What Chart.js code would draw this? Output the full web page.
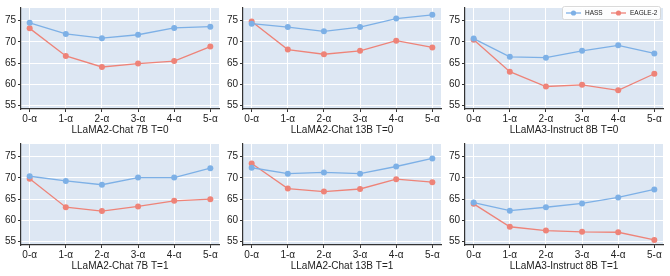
<!DOCTYPE html>
<html>
<head>
<meta charset="utf-8">
<script src="https://cdn.jsdelivr.net/npm/chart.js@4"></script>
<style>
  body { margin: 0; background: #fff; }
  #wrap { position: relative; width: 670px; height: 276px; }
  .cell { position: absolute; width: 222px; height: 136px; }
</style>
</head>
<body>
<div id="wrap"></div>
<script>
// data
const steps = ['0-α', '1-α', '2-α', '3-α', '4-α', '5-α'];
const yTicks = [55, 60, 65, 70, 75];
const titles = [
    'LLaMA2-Chat 7B T=0', 'LLaMA2-Chat 13B T=0', 'LLaMA3-Instruct 8B T=0',
    'LLaMA2-Chat 7B T=1', 'LLaMA2-Chat 13B T=1', 'LLaMA3-Instruct 8B T=1'
];
const hass = [
    [74.5, 71.9, 70.9, 71.7, 73.3, 73.6],
    [74.3, 73.5, 72.5, 73.5, 75.5, 76.4],
    [70.8, 66.5, 66.3, 67.9, 69.2, 67.3],
    [70.4, 69.3, 68.4, 70.1, 70.1, 72.3],
    [72.4, 71.0, 71.3, 71.0, 72.7, 74.6],
    [64.2, 62.3, 63.1, 64.0, 65.4, 67.3]
];
const eagle = [
    [73.2, 66.7, 64.1, 64.9, 65.5, 68.9],
    [74.8, 68.2, 67.1, 67.9, 70.3, 68.7],
    [70.5, 63.0, 59.5, 59.9, 58.6, 62.5],
    [69.8, 63.1, 62.2, 63.3, 64.6, 65.0],
    [73.4, 67.5, 66.8, 67.4, 69.7, 69.0],
    [63.9, 58.5, 57.6, 57.3, 57.2, 55.4]
];

const BLUE = '#7db0e6';
const RED = '#ee8378';
const FONT = "'Liberation Sans', Arial, sans-serif";

const bgPlugin = {
    id: 'bg',
    beforeDraw(chart) {
        const a = chart.chartArea;
        chart.ctx.save();
        chart.ctx.fillStyle = '#dde7f3';
        chart.ctx.fillRect(a.left, a.top, a.right - a.left, a.bottom - a.top);
        chart.ctx.restore();
    }
};

// small legend box like matplotlib's
const legendPlugin = {
    id: 'miniLegend',
    afterDraw(chart) {
        if (!chart.options.plugins.miniLegend.show) return;
        const ctx = chart.ctx;
        const x0 = 118, y0 = 6, w = 98, h = 13;
        ctx.save();
        ctx.fillStyle = 'rgba(255,255,255,0.9)';
        ctx.strokeStyle = '#d0d0d0';
        ctx.lineWidth = 0.8;
        ctx.beginPath();
        ctx.roundRect(x0 + 0.5, y0 + 0.5, w, h, 2);
        ctx.fill();
        ctx.stroke();
        const items = [['HASS', BLUE, x0 + 4], ['EAGLE-2', RED, x0 + 49]];
        ctx.font = '6.5px ' + FONT;
        ctx.textBaseline = 'middle';
        items.forEach(([label, col, lx]) => {
            const cy = y0 + h / 2 + 0.5;
            ctx.strokeStyle = col;
            ctx.lineWidth = 1.3;
            ctx.beginPath();
            ctx.moveTo(lx, cy);
            ctx.lineTo(lx + 15, cy);
            ctx.stroke();
            ctx.fillStyle = col;
            ctx.beginPath();
            ctx.arc(lx + 7.5, cy, 2.6, 0, Math.PI * 2);
            ctx.fill();
            ctx.fillStyle = '#222';
            ctx.fillText(label, lx + 19, cy);
        });
        ctx.restore();
    }
};

function toPoints(values) {
    return values.map((v, i) => ({ x: i, y: v }));
}

function renderPanel(idx) {
    const col = idx % 3, row = Math.floor(idx / 3);
    const cell = document.createElement('div');
    cell.className = 'cell';
    cell.style.left = (col * 222) + 'px';
    cell.style.top = (row * 136) + 'px';
    const canvas = document.createElement('canvas');
    cell.appendChild(canvas);
    document.getElementById('wrap').appendChild(cell);

    new Chart(canvas, {
        type: 'line',
        data: {
            datasets: [
                { label: 'HASS', data: toPoints(hass[idx]), borderColor: BLUE, backgroundColor: BLUE },
                { label: 'EAGLE-2', data: toPoints(eagle[idx]), borderColor: RED, backgroundColor: RED }
            ]
        },
        options: {
            responsive: true,
            maintainAspectRatio: false,
            animation: false,
            devicePixelRatio: 1,
            layout: { padding: { top: 5, right: 3, left: 0, bottom: 0 } },
            elements: {
                line: { borderWidth: 1.3, tension: 0 },
                point: { radius: 3, borderWidth: 0, hoverRadius: 3 }
            },
            plugins: {
                legend: { display: false },
                tooltip: { enabled: false },
                miniLegend: { show: idx === 2 }
            },
            scales: {
                x: {
                    type: 'linear',
                    min: -0.24,
                    max: 5.24,
                    afterBuildTicks(scale) {
                        scale.ticks = steps.map((s, i) => ({ value: i }));
                    },
                    afterFit(scale) { scale.height = 27; },
                    ticks: {
                        callback: (v) => steps[v],
                        color: '#222',
                        font: { family: FONT, size: 10 },
                        padding: 1,
                        maxRotation: 0
                    },
                    grid: { color: '#ffffff', lineWidth: 1, tickColor: '#333', tickLength: 3 },
                    border: { color: '#333', width: 1.2 },
                    title: {
                        display: true,
                        text: titles[idx],
                        color: '#222',
                        font: { family: FONT, size: 10 },
                        padding: { top: 1, bottom: 0 }
                    }
                },
                y: {
                    min: 54.2,
                    max: 78.0,
                    afterBuildTicks(scale) {
                        scale.ticks = yTicks.map(v => ({ value: v }));
                    },
                    afterFit(scale) { scale.width = 21; },
                    ticks: {
                        color: '#222',
                        font: { family: FONT, size: 10 },
                        padding: 2
                    },
                    grid: { color: '#ffffff', lineWidth: 1, tickColor: '#333', tickLength: 3 },
                    border: { color: '#333', width: 1.2 }
                }
            }
        },
        plugins: [bgPlugin, legendPlugin]
    });
}

for (let i = 0; i < 6; i++) renderPanel(i);
</script>
</body>
</html>
